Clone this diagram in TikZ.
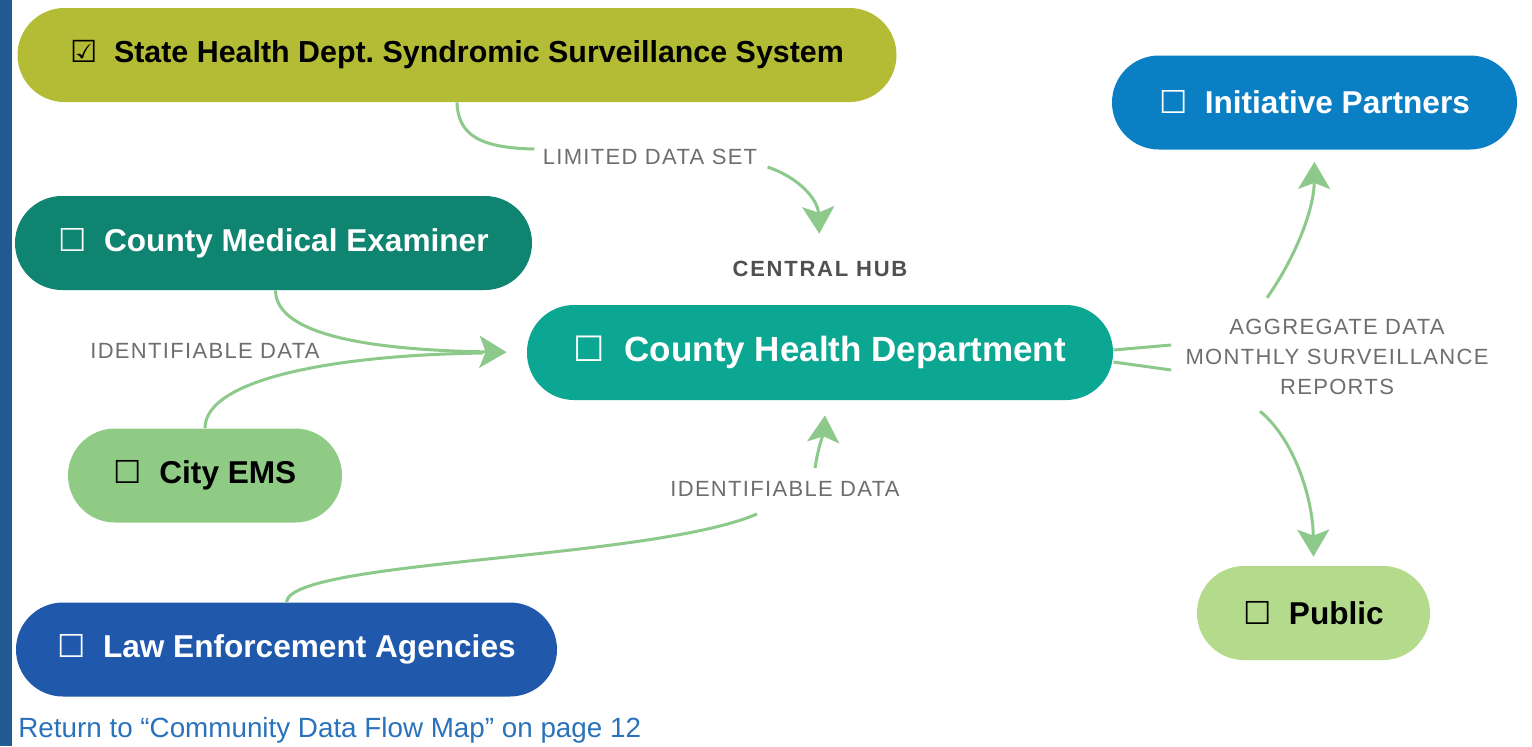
\documentclass[tikz,border=0pt]{standalone}
\usepackage{fontspec}
\setmainfont{Liberation Sans}
\newfontfamily\boxfont{DejaVu Sans}
\newfontfamily\capsfont[LetterSpace=6]{Liberation Sans}
\newfontfamily\hubfont[LetterSpace=8]{Liberation Sans}
\usepackage{tikz}
\usetikzlibrary{arrows.meta,calc}

\definecolor{stripblue}{HTML}{215B91}
\definecolor{olive}{HTML}{B4BC36}
\definecolor{partnerblue}{HTML}{0B7FC3}
\definecolor{darkteal}{HTML}{0F8471}
\definecolor{hubteal}{HTML}{0CA792}
\definecolor{emsgreen}{HTML}{8FCB84}
\definecolor{lawblue}{HTML}{2059AC}
\definecolor{publicgreen}{HTML}{B4DB8C}
\definecolor{flowgreen}{HTML}{8DC98A}
\definecolor{lblgrey}{HTML}{6E6E6E}
\definecolor{hubgrey}{HTML}{505050}
\definecolor{linkblue}{HTML}{2A73BC}

\newcommand{\emptybox}{{\boxfont\symbol{"2610}}\hspace{0.55em}}
\newcommand{\tickbox}{{\boxfont\symbol{"2611}}\hspace{0.55em}}

\begin{document}
\begin{tikzpicture}[
  x=0.5pt, y=-0.5pt,
  pill/.style={rounded corners=23.5pt, minimum height=47pt, inner sep=0pt,
               font=\bfseries\fontsize{15.8}{18}\selectfont},
  lbl/.style={font=\capsfont\fontsize{11}{15}\selectfont, text=lblgrey,
              align=center, inner sep=2pt},
  flow/.style={draw=flowgreen, line width=1.5pt},
  tip/.style={-{Stealth[length=13.5pt, width=16pt, inset=3pt]}}
]
\useasboundingbox (0,0) rectangle (1532,746);
\clip (0,0) rectangle (1532,746);
\fill[white] (0,0) rectangle (1532,746);
\fill[stripblue] (0,0) rectangle (12,746);

% sources
\node[pill, fill=olive, text=black, minimum width=439.5pt,
      font=\bfseries\fontsize{15.2}{18}\selectfont] (st) at (457,55)
  {\tickbox State Health Dept.\ Syndromic Surveillance System};
\node[pill, fill=darkteal, text=white, minimum width=258.5pt] (me) at (273.5,243)
  {\emptybox County Medical Examiner};
\node[pill, fill=emsgreen, text=black, minimum width=137pt] (ems) at (205,475.5)
  {\emptybox City EMS};
\node[pill, fill=lawblue, text=white, minimum width=270.5pt] (law) at (286.5,649.5)
  {\emptybox Law Enforcement Agencies};

% hub
\node[font=\hubfont\bfseries\fontsize{11}{13}\selectfont, text=hubgrey] (cl) at (820,268.5) {CENTRAL HUB};
\node[pill, fill=hubteal, text=white, minimum width=293pt, minimum height=47.5pt,
      font=\bfseries\fontsize{17.5}{20}\selectfont] (hub) at (820,352.5)
  {\emptybox County Health Department};

% recipients
\node[pill, fill=partnerblue, text=white, minimum width=202.5pt] (ip) at (1314.5,102.5)
  {\emptybox Initiative Partners};
\node[pill, fill=publicgreen, text=black, minimum width=116.5pt] (pub) at (1313.5,613)
  {\emptybox Public};

% flow labels
\node[lbl] (lds) at (650,157) {LIMITED DATA SET};
\node[lbl] (lid1) at (205,351) {IDENTIFIABLE DATA};
\node[lbl] (lid2) at (785,489) {IDENTIFIABLE DATA};
\node[lbl] (agg) at (1337,357) {AGGREGATE DATA\\MONTHLY SURVEILLANCE\\REPORTS};

% inbound flows
\draw[flow] (st.south) .. controls (458,135) and (480,148) .. ($(lds.west)+(-4,-8)$);
\draw[flow, tip, shorten >=10pt] ($(lds.east)+(6,10)$) .. controls (800,178) and (818,200) .. (cl.north);
\draw[flow, tip, shorten >=10pt] ([xshift=1pt]me.south) .. controls (276,335) and (370,350) .. (hub.west);
\draw[flow, shorten >=22pt] (ems.north) .. controls (205,380) and (330,355) .. (hub.west);
\draw[flow] (law.north) .. controls (290,560) and (650,560) .. ($(lid2.south)+(-28,13)$);
\draw[flow, tip, shorten >=7.5pt] ($(lid2.north)+(30,-9)$) .. controls (818,448) and (824,430) .. ($(hub.south)+(6,0)$);

% outbound flows
\draw[flow] ([yshift=1.25pt]hub.east) -- ($(agg.west)+(-10,-12)$);
\draw[flow] ([yshift=-4.75pt]hub.east) -- ($(agg.west)+(-10,13)$);
\draw[flow, tip, shorten >=6pt] ($(agg.north)+(-70,-17)$) .. controls (1295,258) and (1314,210) .. (ip.south);
\draw[flow, tip, shorten >=4.5pt] ($(agg.south)+(-77,12)$) .. controls (1295,440) and (1313,500) .. (pub.north);

% page link
\node[anchor=base west, inner sep=0pt, text=linkblue, font=\fontsize{13.9}{16}\selectfont] (back) at (18,737)
  {Return to “Community Data Flow Map” on page 12};
\end{tikzpicture}
\end{document}
